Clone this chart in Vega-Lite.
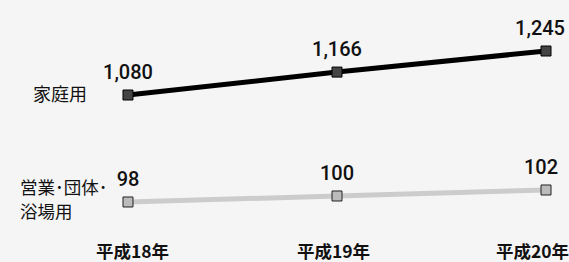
{
  "$schema": "https://vega.github.io/schema/vega-lite/v6.json",
  "autosize": "none",
  "padding": {"left": 0, "right": 0, "top": 0, "bottom": 24},
  "width": 569,
  "height": 238,
  "background": "#f5f5f5",
  "config": {
    "view": {"stroke": null},
    "font": "Noto Sans CJK JP",
    "text": {"font": "Noto Sans CJK JP"}
  },
  "data": {
    "values": [
      {"series": "家庭用", "year": 18, "value": 1080},
      {"series": "家庭用", "year": 19, "value": 1166},
      {"series": "家庭用", "year": 20, "value": 1245},
      {"series": "営業･団体･浴場用", "year": 18, "value": 98},
      {"series": "営業･団体･浴場用", "year": 19, "value": 100},
      {"series": "営業･団体･浴場用", "year": 20, "value": 102}
    ]
  },
  "encoding": {
    "x": {
      "field": "year",
      "type": "quantitative",
      "scale": {"domain": [17.3876, 20.11], "nice": false, "zero": false},
      "axis": {
        "values": [18, 19, 20],
        "labelExpr": "'平成' + datum.value + '年'",
        "grid": false,
        "domain": false,
        "ticks": false,
        "title": null,
        "labelFont": "Noto Sans CJK JP",
        "labelFontWeight": "bold",
        "labelFontSize": 17.5,
        "labelColor": "#111111",
        "labelPadding": 5,
        "labelOffset": {"condition": [{"test": "datum.value == 20", "value": -14}, {"test": "datum.value == 19", "value": -4}], "value": 4}
      }
    }
  },
  "layer": [
    {
      "transform": [{"filter": "datum.series == '家庭用'"}],
      "encoding": {
        "y": {
          "field": "value",
          "type": "quantitative",
          "scale": {"domain": [543.75, 1436.25], "nice": false, "zero": false},
          "axis": null
        }
      },
      "layer": [
        {"mark": {"type": "line", "color": "#000000", "strokeWidth": 5}, "encoding": {}},
        {"mark": {"type": "point", "shape": "square", "filled": true, "size": 100, "fill": "#444444", "stroke": "#000000", "strokeWidth": 1, "opacity": 1}, "encoding": {}},
        {
          "mark": {"type": "text", "font": "Roboto", "fontSize": 20, "fontWeight": 500, "color": "#111111", "baseline": "middle", "dy": -22, "dx": {"expr": "datum.year == 20 ? -6 : 0"}},
          "encoding": {"text": {"field": "value", "type": "quantitative", "format": ","}}
        },
        {
          "transform": [{"filter": "datum.year == 18"}],
          "mark": {"type": "text", "fontSize": 18, "color": "#111111", "align": "left", "baseline": "middle", "dx": -95, "dy": 1},
          "encoding": {"text": {"field": "series"}}
        }
      ]
    },
    {
      "transform": [{"filter": "datum.series != '家庭用'"}],
      "encoding": {
        "y": {
          "field": "value",
          "type": "quantitative",
          "scale": {"domain": [86, 165.333], "nice": false, "zero": false},
          "axis": null
        }
      },
      "layer": [
        {"mark": {"type": "line", "color": "#cccccc", "strokeWidth": 5}, "encoding": {}},
        {"mark": {"type": "point", "shape": "square", "filled": true, "size": 100, "fill": "#bbbbbb", "stroke": "#222222", "strokeWidth": 1, "opacity": 1}, "encoding": {}},
        {
          "mark": {"type": "text", "font": "Roboto", "fontSize": 20, "fontWeight": 500, "color": "#111111", "baseline": "middle", "dy": -22, "dx": {"expr": "datum.year == 20 ? -5 : 0"}},
          "encoding": {"text": {"field": "value", "type": "quantitative", "format": ","}}
        },
        {
          "transform": [{"filter": "datum.year == 18"}],
          "mark": {"type": "text", "fontSize": 17.5, "color": "#111111", "align": "left", "baseline": "middle", "dx": -108, "dy": -13, "lineHeight": 24},
          "encoding": {"text": {"value": ["営業･団体･", "浴場用"]}}
        }
      ]
    }
  ],
  "resolve": {"scale": {"y": "independent"}}
}
